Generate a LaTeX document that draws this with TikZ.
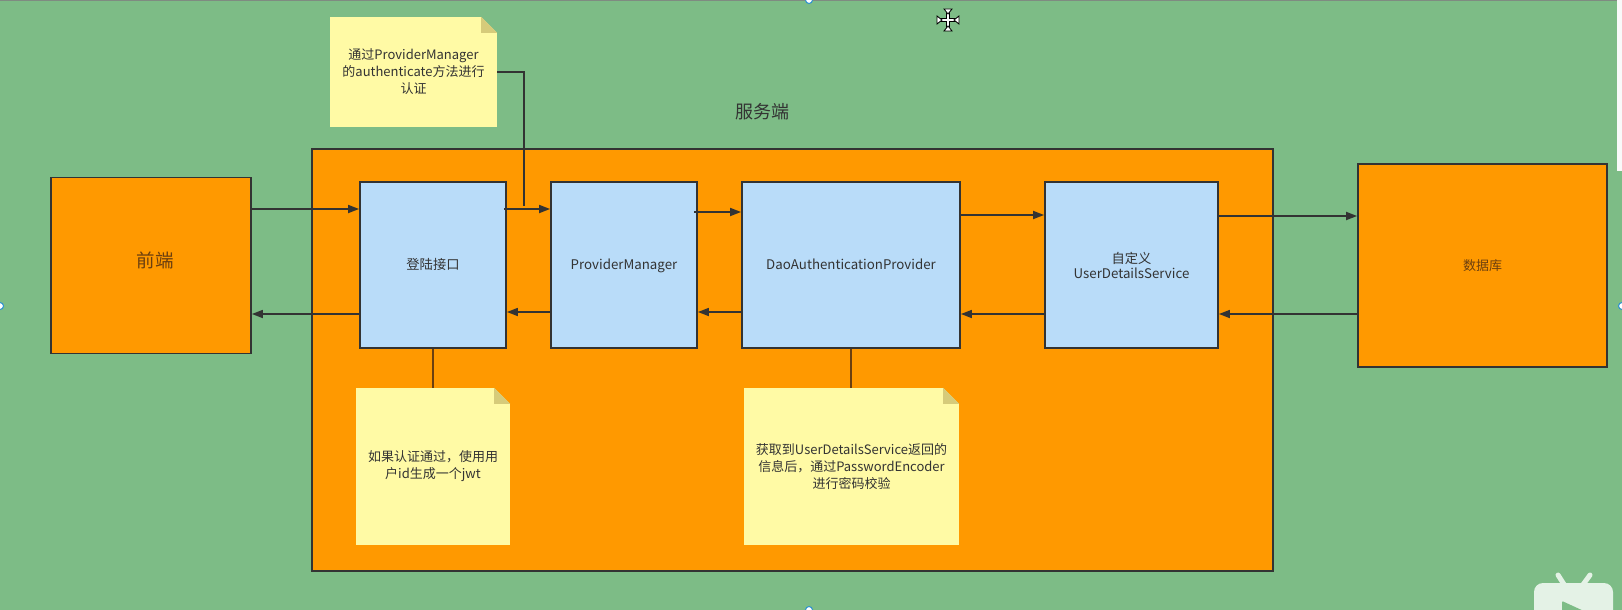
\documentclass[tikz,border=0pt]{standalone}
\usepackage{fontspec}
\setmainfont{Noto Sans CJK SC}
\usepackage{xcolor}
\usetikzlibrary{arrows.meta,positioning}

\definecolor{pagegreen}{HTML}{7DBC86}
\definecolor{boxorange}{HTML}{FF9900}
\definecolor{boxblue}{HTML}{B9DCF9}
\definecolor{noteyellow}{HTML}{FFFAA5}
\definecolor{notefold}{HTML}{D6CB7A}
\definecolor{linegray}{HTML}{333333}
\definecolor{linebrown}{HTML}{6B3F10}
\definecolor{handleblue}{HTML}{2A8FD0}
\definecolor{tvwhite}{HTML}{E4F2E6}

\tikzset{
  orangebox/.style={draw=linegray, line width=1.8pt, fill=boxorange, text=linebrown, inner sep=0pt},
  bluebox/.style={draw=linegray, line width=1.8pt, fill=boxblue, text=linegray, align=center, inner sep=0pt,
    minimum height=166pt, font=\fontsize{13.3}{15}\selectfont},
  oneline/.style={text height=11pt, text depth=3pt},
  notebox/.style={fill=noteyellow, text=linegray, align=center, inner sep=0pt,
    font=\fontsize{13}{17}\selectfont},
  flow/.style={draw=linegray, line width=1.7pt, -{Triangle[length=11pt,width=8pt]}},
  notelink/.style={draw=linegray, line width=1.7pt},
  stubline/.style={draw=linebrown, line width=1.7pt},
  handle/.style={circle, fill=white, draw=handleblue, line width=1pt, inner sep=0pt, minimum size=7pt},
  cursorline/.style={draw=black, line width=3.4pt},
  cursorwhite/.style={draw=white, line width=1.2pt}
}

\begin{document}
\begin{tikzpicture}[x=1pt,y=-1pt]
\useasboundingbox (0,0) rectangle (1622,610);
\fill[pagegreen] (0,0) rectangle (1622,610);
\fill[gray!80!pagegreen] (0,0) rectangle (1622,1);

% boxes
\node[orangebox, minimum width=961pt, minimum height=422pt] (server) at (792.5,360) {};
\node[orangebox, minimum width=200pt, minimum height=176pt] (frontend) at (151,265.5) {};
\node[text=linebrown, font=\fontsize{18.5}{22}\selectfont] (frontendlabel) at (155,260) {前端};
\node[orangebox, minimum width=249pt, minimum height=203pt, font=\fontsize{13}{15}\selectfont] (database) at (1482.5,265.5) {数据库};
\node[bluebox, oneline, minimum width=146pt] (login) at (433,265) {登陆接口};
\node[bluebox, oneline, minimum width=146pt] (provider) at (624,265) {ProviderManager};
\node[bluebox, oneline, minimum width=218pt] (dao) at (851,265) {DaoAuthenticationProvider};
\node[bluebox, minimum width=173pt] (userservice) at (1131.5,265) {自定义\\UserDetailsService};
\node[text=linegray, font=\fontsize{18}{22}\selectfont] (title) at (762,112) {服务端};

% stubs under the notes
\coordinate (loginstub) at (433,388);
\coordinate (daostub) at (851,388);
\draw[stubline] (login.south) -- (loginstub);
\draw[stubline] (dao.south) -- (daostub);

% notes
\node[notebox, minimum width=167pt, minimum height=110pt] (topnote) at (413.5,72) {通过ProviderManager\\的authenticate方法进行\\认证};
\node[notebox, minimum width=154pt, minimum height=157pt] (loginnote) at (433,466.5) {如果认证通过，使用用\\户id生成一个jwt};
\node[notebox, minimum width=215pt, minimum height=157pt] (daonote) at (851.5,466.5) {获取到UserDetailsService返回的\\信息后，通过PasswordEncoder\\进行密码校验};
\foreach \name/\under in {topnote/pagegreen, loginnote/boxorange, daonote/boxorange} {
  \fill[\under] ([xshift=-16pt]\name.north east) -- (\name.north east) -- ([yshift=-16pt]\name.north east) -- cycle;
  \fill[notefold] ([xshift=-16pt]\name.north east) -- ([yshift=-16pt]\name.north east) -- ([shift={(-16pt,-16pt)}]\name.north east) -- cycle;
}

% forward and back arrows
\foreach \from/\to/\yy in {frontend/login/209, dao/userservice/215, userservice/database/216} {
  \draw[flow] (\from.east |- 0,\yy) -- (\to.west |- 0,\yy);
}
\foreach \from/\to/\yy in {login/frontend/314, provider/login/312, dao/provider/312, userservice/dao/314, database/userservice/314} {
  \draw[flow] (\from.west |- 0,\yy) -- (\to.east |- 0,\yy);
}
\coordinate (loginout) at (504,209);
\coordinate (providerout) at (694,212);
\draw[flow] (loginout) -- (provider.west |- loginout);
\draw[flow] (providerout) -- (dao.west |- providerout);
\coordinate (topnoteend) at (524,206);
\draw[notelink] (topnote.east) -| (topnoteend);

% canvas handles
\foreach \hx/\hy/\hname in {809/0/handletop, 809/610/handlebottom, 0/306/handleleft, 1622/306/handleright} {
  \node[handle] (\hname) at (\hx,\hy) {};
}

% scrollbar
\fill[white!95!gray] (1617,0) rectangle (1622,171);

% move cursor
\foreach \st in {cursorline,cursorwhite} {
  \draw[\st] (939,20) -- (957,20);
  \draw[\st] (948,11) -- (948,29);
}
\foreach \ang in {0,90,180,270} {
  \fill[white, draw=black, line width=0.8pt, rotate around={\ang:(948,20)}] (942,20) -- (937,16) -- (937,24) -- cycle;
}

% tv badge
\fill[tvwhite, rounded corners=9pt] (1534,583) rectangle (1613,625);
\draw[tvwhite, line width=5pt, line cap=round] (1558,575) -- (1565,586);
\draw[tvwhite, line width=5pt, line cap=round] (1590,575) -- (1582,586);
\fill[pagegreen, rounded corners=1pt] (1562,601) -- (1586,612) -- (1562,612) -- cycle;
\end{tikzpicture}
\end{document}
